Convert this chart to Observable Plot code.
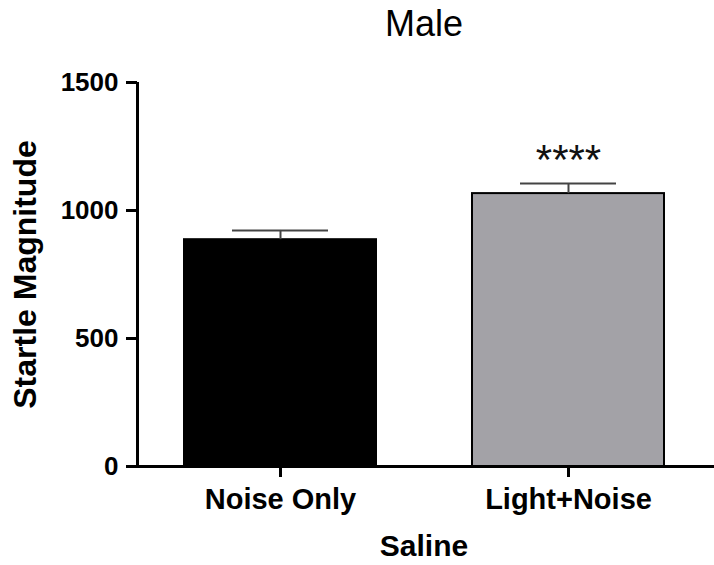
<!DOCTYPE html>
<html>
<head>
<meta charset="utf-8">
<script src="https://cdn.jsdelivr.net/npm/d3@7"></script>
<script src="https://cdn.jsdelivr.net/npm/@observablehq/plot@0.6"></script>
<style>
  html, body { margin: 0; padding: 0; background: #fff; }
</style>
</head>
<body>
<div id="chart"></div>
<script>
// Startle magnitude for male saline group (mean ± SEM)
const groups = ["Noise Only", "Light+Noise"];
const means = [886, 1066];
const sems = [36, 39];
const fills = ["#000000", "#a3a2a7"];
const significance = ["", "****"];
const yTicks = [0, 500, 1000, 1500];

const data = groups.map((g, i) => ({
  group: g, mean: means[i], sem: sems[i], fill: fills[i], sig: significance[i]
}));

const font = "'Liberation Sans', Arial, Helvetica, sans-serif";

const chart = Plot.plot({
  width: 714,
  height: 565,
  marginTop: 82,
  marginBottom: 99,
  marginLeft: 137,
  marginRight: 0,
  style: { fontFamily: font, background: "#fff", color: "#000" },
  x: { domain: groups, range: [137, 712], paddingInner: 0.332, paddingOuter: 0.161, label: null },
  y: { domain: [0, 1500], label: null },
  marks: [
    // bars
    Plot.barY(data, { x: "group", y: "mean", fill: "fill", stroke: "#000", strokeWidth: 2 }),
    // error bar stems and caps
    Plot.ruleX(data, { x: "group", y1: "mean", y2: d => d.mean + d.sem, stroke: "#444", strokeWidth: 2 }),
    Plot.tickY(data, { x: "group", y: d => d.mean + d.sem, stroke: "#444", strokeWidth: 2, insetLeft: 48, insetRight: 48 }),
    // significance stars
    Plot.text(data.filter(d => d.sig), {
      x: "group", y: d => d.mean + d.sem, text: "sig",
      dy: -23, fontSize: 42, fill: "#111"
    }),
    // axes
    Plot.axisY({
      ticks: yTicks, tickFormat: d3.format("d"), tickSize: 11, tickPadding: 8, strokeWidth: 3,
      fontSize: 26, fontWeight: "bold", label: null
    }),
    Plot.axisX({
      tickSize: 11, tickPadding: 11, strokeWidth: 3,
      fontSize: 29, fontWeight: "bold", label: null
    }),
    // axis lines
    Plot.ruleX([0], { x: null, dx: 137 - (137 + 714) / 2, stroke: "#000", strokeWidth: 3 }),
    Plot.ruleY([0], { stroke: "#000", strokeWidth: 3 }),
    // y axis title
    Plot.text(["Startle Magnitude"], {
      frameAnchor: "left", textAnchor: "middle", dx: -112, rotate: -90,
      fontSize: 32, fontWeight: "bold"
    }),
    // x axis title
    Plot.text(["Saline"], {
      frameAnchor: "bottom", dx: -2, dy: 89,
      fontSize: 30, fontWeight: "bold"
    }),
    // chart title
    Plot.text(["Male"], {
      frameAnchor: "top", dx: -2, dy: -72,
      fontSize: 36
    })
  ]
});

document.getElementById("chart").appendChild(chart);
</script>
</body>
</html>
